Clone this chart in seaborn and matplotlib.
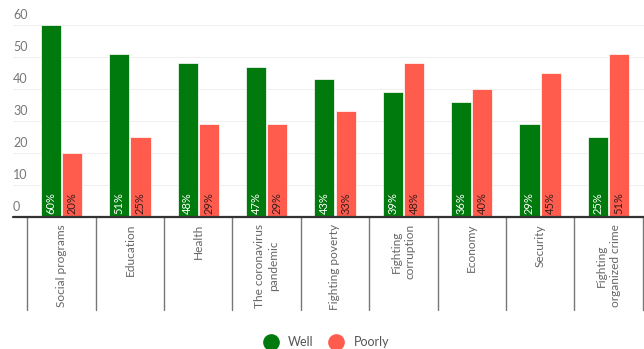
import matplotlib
matplotlib.use("Agg")
import matplotlib.pyplot as plt
from matplotlib.lines import Line2D
import seaborn as sns
import pandas as pd

categories = [
    "Social programs", "Education", "Health", "The coronavirus\npandemic",
    "Fighting poverty", "Fighting\ncorruption", "Economy", "Security",
    "Fighting\norganized crime",
]
well = [60, 51, 48, 47, 43, 39, 36, 29, 25]
poorly = [20, 25, 29, 29, 33, 48, 40, 45, 51]
series_names = ["Well", "Poorly"]
y_ticks = [0, 10, 20, 30, 40, 50, 60]

GREEN = "#007a0c"
RED = "#ff5c4e"

df = pd.DataFrame({
    "category": categories * 2,
    "value": well + poorly,
    "rating": [series_names[0]] * len(categories) + [series_names[1]] * len(categories),
})

sns.set_theme(style="white")
plt.rcParams["font.family"] = ["Lato", "DejaVu Sans"]

fig = plt.figure(figsize=(6.44, 3.49), dpi=100)
ax = fig.add_axes([13 / 644, 132 / 349, 631 / 644, 217 / 349])

sns.barplot(
    data=df, x="category", y="value", hue="rating", order=categories,
    hue_order=series_names, palette=[GREEN, RED], width=0.62, gap=0.05,
    saturation=1, edgecolor="white", linewidth=0.5, legend=False, ax=ax,
)

ax.set_xlim(-0.71, 8.52)
ax.set_ylim(0, 67.8)

# faint horizontal gridlines, labels sitting just above each line
for t in y_ticks[1:]:
    ax.axhline(t, color="#f0f0f0", lw=0.8, zorder=0)
ax.set_yticks([])
for t in y_ticks:
    ax.text(0.0, t + 1.2, str(t), transform=ax.get_yaxis_transform(),
            ha="left", va="bottom", fontsize=9, color="#777777")

# percentage labels inside the bars
for container, color in zip(ax.containers, ["white", "#3a1c1c"]):
    for bar in container:
        h = bar.get_height()
        ax.text(bar.get_x() + bar.get_width() / 2, 0.8, f"{h:.0f}%",
                rotation=90, ha="center", va="bottom", fontsize=8,
                color=color)

# baseline and category separators
ax.axhline(0, color="#333333", lw=1.6, clip_on=False, zorder=5)
for i in range(len(categories) + 1):
    ax.plot([i - 0.5, i - 0.5], [0, -29], color="#777777", lw=1.0,
            clip_on=False, zorder=4)

ax.set_xticks(range(len(categories)))
ax.set_xticklabels(categories, rotation=90, va="top", ha="center",
                   fontsize=8.6, color="#666666", linespacing=1.35)
ax.tick_params(axis="x", length=0, pad=5)
ax.set_xlabel("")
ax.set_ylabel("")
sns.despine(ax=ax, left=True, bottom=True)

handles = [
    Line2D([], [], marker="o", linestyle="", markersize=11,
           markerfacecolor=c, markeredgecolor=c)
    for c in [GREEN, RED]
]
fig.legend(handles, series_names, loc="center", bbox_to_anchor=(0.503, 0.02),
           ncol=2, frameon=False, fontsize=9, handletextpad=0.4,
           columnspacing=0.8, labelcolor="#555555")

fig.savefig("out.png", dpi=100)
